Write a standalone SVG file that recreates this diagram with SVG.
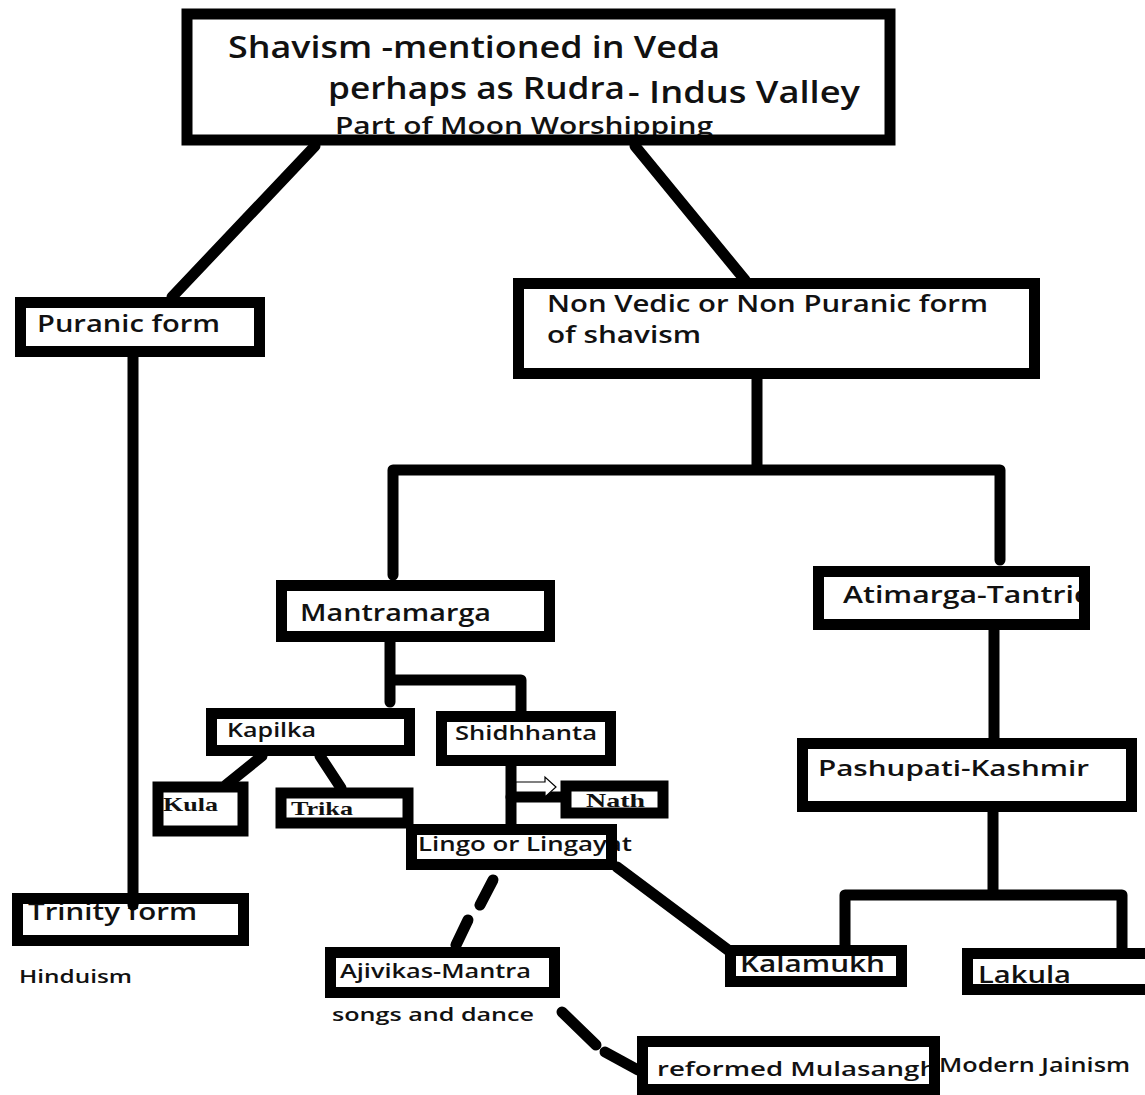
<svg xmlns="http://www.w3.org/2000/svg" width="1145" height="1095" viewBox="0 0 1145 1095">
  <style>
    .bg { fill: #ffffff; }
    .box { fill: none; stroke: #000; stroke-width: 11; }
    .fill { fill: #ffffff; stroke: none; }
    .t { font-family: "Open Sans", "Noto Sans", "Liberation Sans", sans-serif; font-weight: 600; fill: #111; }
    .s { font-family: "Liberation Serif", "DejaVu Serif", serif; font-weight: 700; fill: #111; }
    .ln { stroke: #000; stroke-width: 11; fill: none; stroke-linecap: round; stroke-linejoin: round; }
    .dash { stroke: #000; stroke-width: 11; fill: none; stroke-linecap: round; }
  </style>
  <rect class="bg" x="0" y="0" width="1145" height="1095"/>

  <!-- nodes -->
  <g id="root">
    <rect class="fill" x="187" y="14" width="703" height="126"/>
    <text class="t" x="228" y="58" font-size="30" font-weight="500" textLength="492" lengthAdjust="spacingAndGlyphs">Shavism -mentioned in Veda</text>
    <text class="t" x="328" y="99" font-size="30" font-weight="500" textLength="297" lengthAdjust="spacingAndGlyphs">perhaps as Rudra</text>
    <text class="t" x="628" y="103" font-size="30" font-weight="500" textLength="232" lengthAdjust="spacingAndGlyphs">- Indus Valley</text>
    <text class="t" x="335" y="134" font-size="23" font-weight="500" textLength="378" lengthAdjust="spacingAndGlyphs">Part of Moon Worshipping</text>
    <rect class="box" x="187" y="14" width="703" height="126" stroke-width="11"/>
  </g>

  <g id="puranic">
    <rect class="fill" x="20.5" y="302.5" width="239" height="49"/>
    <text class="t" x="37" y="332" font-size="24" textLength="183" lengthAdjust="spacingAndGlyphs">Puranic form</text>
    <rect class="box" x="20.5" y="302.5" width="239" height="49"/>
  </g>

  <g id="nonvedic">
    <rect class="fill" x="518.5" y="283.5" width="516" height="90"/>
    <text class="t" x="547" y="312" font-size="24" textLength="441" lengthAdjust="spacingAndGlyphs">Non Vedic or Non Puranic form</text>
    <text class="t" x="547" y="343" font-size="24" textLength="154" lengthAdjust="spacingAndGlyphs">of shavism</text>
    <rect class="box" x="518.5" y="283.5" width="516" height="90"/>
  </g>

  <g id="mantramarga">
    <rect class="fill" x="281.5" y="585.5" width="268" height="51"/>
    <text class="t" x="300" y="621" font-size="24" textLength="191" lengthAdjust="spacingAndGlyphs">Mantramarga</text>
    <rect class="box" x="281.5" y="585.5" width="268" height="51"/>
  </g>

  <g id="atimarga">
    <rect class="fill" x="818.5" y="571.5" width="266" height="53"/>
    <text class="t" x="843" y="603" font-size="23" textLength="246" lengthAdjust="spacingAndGlyphs">Atimarga-Tantric</text>
    <rect class="box" x="818.5" y="571.5" width="266" height="53"/>
  </g>

  <g id="kapilka">
    <rect class="fill" x="211.5" y="713.5" width="198" height="37"/>
    <text class="t" x="227" y="737" font-size="19" textLength="89" lengthAdjust="spacingAndGlyphs">Kapilka</text>
    <rect class="box" x="211.5" y="713.5" width="198" height="37"/>
  </g>

  <g id="shidhhanta">
    <rect class="fill" x="441.5" y="716.5" width="169" height="44"/>
    <text class="t" x="455" y="740" font-size="19" textLength="142" lengthAdjust="spacingAndGlyphs">Shidhhanta</text>
    <rect class="box" x="441.5" y="716.5" width="169" height="44"/>
  </g>

  <g id="nath">
    <rect class="fill" x="566" y="786" width="97" height="27"/>
    <text class="s" x="586" y="807" font-size="19" textLength="59" lengthAdjust="spacingAndGlyphs">Nath</text>
    <rect class="box" x="566" y="786" width="97" height="27" stroke-width="10"/>
  </g>

  <g id="kula">
    <rect class="fill" x="158" y="787" width="85" height="44"/>
    <text class="s" x="163" y="811" font-size="19" textLength="55" lengthAdjust="spacingAndGlyphs">Kula</text>
    <rect class="box" x="158" y="787" width="85" height="44" stroke-width="10"/>
  </g>

  <g id="trika">
    <rect class="fill" x="281" y="793" width="127" height="30"/>
    <text class="s" x="291" y="815" font-size="19" textLength="62" lengthAdjust="spacingAndGlyphs">Trika</text>
    <rect class="box" x="281" y="793" width="127" height="30" stroke-width="10"/>
  </g>

  <g id="lingo">
    <rect class="fill" x="411.5" y="829.5" width="200" height="35"/>
    <text class="t" x="418" y="851" font-size="19" textLength="214" lengthAdjust="spacingAndGlyphs">Lingo or Lingayat</text>
    <rect class="box" x="411.5" y="829.5" width="200" height="35"/>
  </g>

  <g id="pashupati">
    <rect class="fill" x="802.5" y="743.5" width="329" height="63"/>
    <text class="t" x="818" y="776" font-size="22" textLength="271" lengthAdjust="spacingAndGlyphs">Pashupati-Kashmir</text>
    <rect class="box" x="802.5" y="743.5" width="329" height="63"/>
  </g>

  <g id="trinity">
    <rect class="fill" x="17.5" y="898.5" width="226" height="42"/>
    <text class="t" x="28" y="920" font-size="24" textLength="169" lengthAdjust="spacingAndGlyphs">Trinity form</text>
    <rect class="box" x="17.5" y="898.5" width="226" height="42"/>
  </g>
  <g id="hinduism">
    <text class="t" x="19" y="983" font-size="18" textLength="113" lengthAdjust="spacingAndGlyphs">Hinduism</text>
  </g>

  <g id="ajivikas">
    <rect class="fill" x="330.5" y="952.5" width="224" height="40"/>
    <text class="t" x="340" y="978" font-size="20" textLength="191" lengthAdjust="spacingAndGlyphs">Ajivikas-Mantra</text>
    <rect class="box" x="330.5" y="952.5" width="224" height="40"/>
  </g>
  <g id="songs">
    <text class="t" x="332" y="1021" font-size="18" font-weight="500" textLength="202" lengthAdjust="spacingAndGlyphs">songs and dance</text>
  </g>

  <g id="kalamukh">
    <rect class="fill" x="730.5" y="950.5" width="171" height="31"/>
    <text class="t" x="740" y="972" font-size="24" font-weight="500" textLength="145" lengthAdjust="spacingAndGlyphs">Kalamukh</text>
    <rect class="box" x="730.5" y="950.5" width="171" height="31"/>
  </g>

  <g id="lakula">
    <rect class="fill" x="967.5" y="953.5" width="190" height="36"/>
    <text class="t" x="978" y="983" font-size="24" font-weight="500" textLength="93" lengthAdjust="spacingAndGlyphs">Lakula</text>
    <rect class="box" x="967.5" y="953.5" width="190" height="36"/>
  </g>

  <g id="mulasangh">
    <rect class="fill" x="642.5" y="1041.5" width="292" height="48"/>
    <text class="t" x="657" y="1076" font-size="19" textLength="280" lengthAdjust="spacingAndGlyphs">reformed Mulasangh</text>
    <rect class="box" x="642.5" y="1041.5" width="292" height="48"/>
  </g>
  <g id="jainism">
    <text class="t" x="939" y="1072" font-size="19" textLength="191" lengthAdjust="spacingAndGlyphs">Modern Jainism</text>
  </g>

  <!-- connectors -->
  <g id="connectors">
    <line class="ln" x1="315" y1="146" x2="172" y2="297"/>
    <line class="ln" x1="635" y1="146" x2="745" y2="280"/>
    <line class="ln" x1="133" y1="357" x2="133" y2="905"/>
    <line class="ln" x1="757" y1="379" x2="757" y2="468"/>
    <polyline class="ln" points="393,575 393,470 1000,470 1000,560"/>
    <line class="ln" x1="390" y1="642" x2="390" y2="702"/>
    <polyline class="ln" points="393,680 521,680 521,711"/>
    <line class="ln" x1="262" y1="756" x2="226" y2="785"/>
    <line class="ln" x1="320" y1="756" x2="341" y2="788"/>
    <line class="ln" x1="511" y1="766" x2="511" y2="826"/>
    <line class="ln" x1="511" y1="797" x2="563" y2="797"/>
    <polygon points="516,782 545,782 545,777 556,787 545,797 545,792 516,792" fill="#fff" stroke="#000" stroke-width="1.2"/>
    <line class="ln" x1="617" y1="867" x2="728" y2="950"/>
    <line class="dash" x1="493" y1="880" x2="480" y2="905"/>
    <line class="dash" x1="468" y1="920" x2="456" y2="945"/>
    <line class="ln" x1="994" y1="630" x2="994" y2="738"/>
    <line class="ln" x1="993" y1="812" x2="993" y2="890"/>
    <polyline class="ln" points="845,948 845,895 1122,895 1122,950"/>
    <line class="dash" x1="562" y1="1012" x2="596" y2="1045"/>
    <line class="dash" x1="605" y1="1052" x2="638" y2="1070"/>
  </g>
</svg>
